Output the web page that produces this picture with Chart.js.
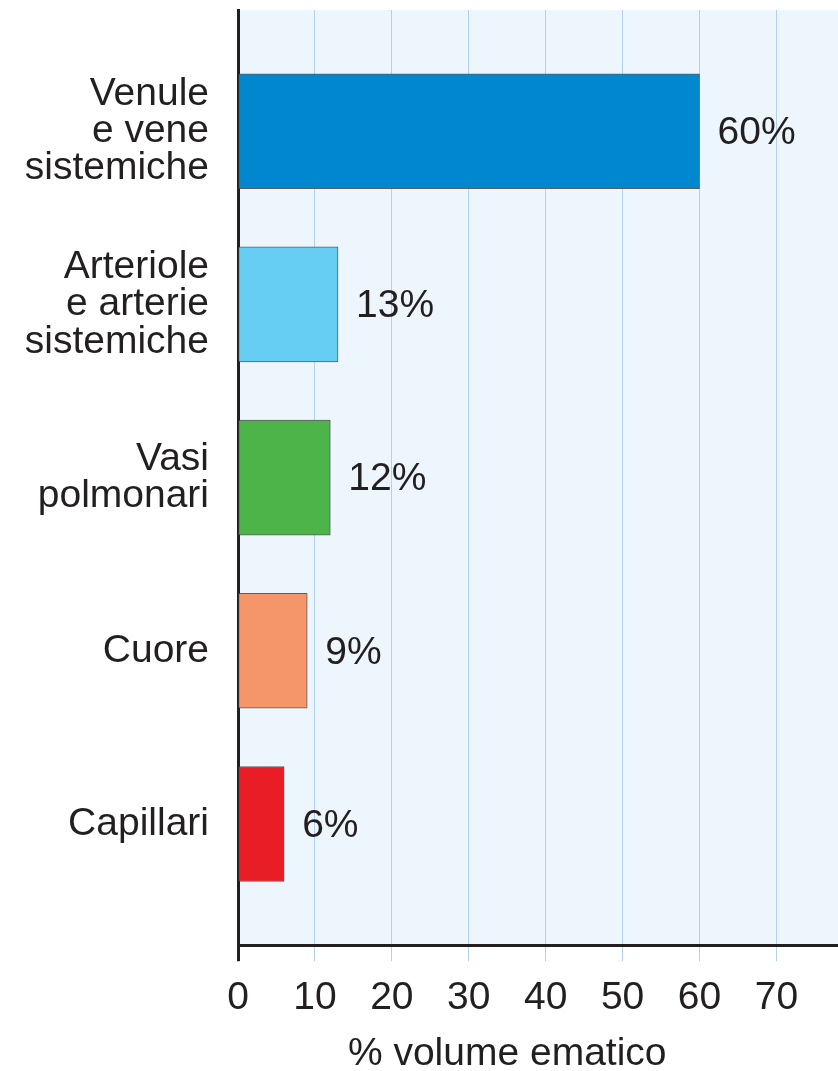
<!DOCTYPE html>
<html>
<head>
<meta charset="utf-8">
<script src="https://cdn.jsdelivr.net/npm/chart.js@4/dist/chart.umd.min.js"></script>
<style>
	html, body { margin: 0; padding: 0; background: #ffffff; overflow: hidden; }
	#wrap { width: 838px; height: 1071px; }
</style>
</head>
<body>
<div id="wrap"><canvas id="volumeChart" width="838" height="1071"></canvas></div>
<script>
// distribuzione del volume ematico nei vari distretti
var categories = [
	['Venule', 'e vene', 'sistemiche'],
	['Arteriole', 'e arterie', 'sistemiche'],
	['Vasi', 'polmonari'],
	['Cuore'],
	['Capillari']
];
var percentages = [60, 13, 12, 9, 6];
var barColors = ['#0087cd', '#66cdf3', '#4cb449', '#f4966a', '#e81d25'];
var xTicks = [0, 10, 20, 30, 40, 50, 60, 70];
var axisTitle = '% volume ematico';

var textColor = '#231f20';
var fontFamily = '"Liberation Sans", Arial, Helvetica, sans-serif';
var fontSize = 39;

// light blue plot background
var plotBackground = {
	id: 'plotBackground',
	beforeDraw: function (chart) {
		var a = chart.chartArea;
		var ctx = chart.ctx;
		ctx.save();
		ctx.fillStyle = '#eef6fd';
		ctx.fillRect(a.left, a.top, a.right - a.left, a.bottom - a.top);
		ctx.restore();
	}
};

// percent labels next to each bar and the x axis title under the ticks
var barLabels = {
	id: 'barLabels',
	afterDatasetsDraw: function (chart) {
		var ctx = chart.ctx;
		var meta = chart.getDatasetMeta(0);
		ctx.save();
		ctx.font = fontSize + 'px ' + fontFamily;
		ctx.fillStyle = textColor;
		ctx.textBaseline = 'middle';
		ctx.textAlign = 'left';
		meta.data.forEach(function (bar, i) {
			ctx.fillText(percentages[i] + '%', bar.x + 18, bar.y + 2);
		});
		var xs = chart.scales.x;
		var mid = (xs.getPixelForValue(xTicks[0]) + xs.getPixelForValue(xTicks[xTicks.length - 1])) / 2;
		ctx.textAlign = 'center';
		ctx.fillText(axisTitle, mid, 1054);
		ctx.restore();
	}
};

var config = {
	type: 'bar',
	data: {
		datasets: [{
			data: percentages.map(function (v, i) {
				return { x: v, y: i + 1 };
			}),
			backgroundColor: barColors,
			borderColor: 'rgba(55, 55, 55, 0.8)',
			borderWidth: 1,
			borderSkipped: false,
			barThickness: 115
		}]
	},
	options: {
		indexAxis: 'y',
		responsive: false,
		animation: false,
		layout: {
			padding: { top: 10, right: 0, bottom: 35, left: 0 }
		},
		plugins: {
			legend: { display: false },
			title: { display: false },
			tooltip: { enabled: false }
		},
		scales: {
			x: {
				type: 'linear',
				min: 0,
				max: 78,
				afterBuildTicks: function (scale) {
					scale.ticks = xTicks.map(function (v) { return { value: v }; });
				},
				grid: {
					color: '#b3d2ef',
					lineWidth: 1,
					tickLength: 16,
					tickColor: function (c) { return c.tick && c.tick.value === 0 ? '#231f20' : '#b3d2ef'; },
					tickWidth: function (c) { return c.tick && c.tick.value === 0 ? 3 : 1; }
				},
				border: { color: '#231f20', width: 3 },
				ticks: {
					color: textColor,
					padding: 14,
					maxRotation: 0,
					font: { family: fontFamily, size: fontSize }
				}
			},
			y: {
				type: 'linear',
				offset: false,
				reverse: true,
				min: 0.3,
				max: 5.7,
				afterBuildTicks: function (scale) {
					scale.ticks = categories.map(function (c, i) { return { value: i + 1 }; });
				},
				afterFit: function (scale) {
					scale.width = 238;
					scale.paddingTop = 0;
					scale.paddingBottom = 0;
				},
				grid: { display: false, drawTicks: false, offset: false },
				border: { color: '#231f20', width: 3 },
				ticks: {
					color: textColor,
					padding: 29,
					font: { family: fontFamily, size: fontSize, lineHeight: 0.96 },
					callback: function (value) {
						return categories[value - 1];
					}
				}
			}
		}
	},
	plugins: [plotBackground, barLabels]
};

var volumeChart = new Chart(document.getElementById('volumeChart'), config);
</script>
</body>
</html>
